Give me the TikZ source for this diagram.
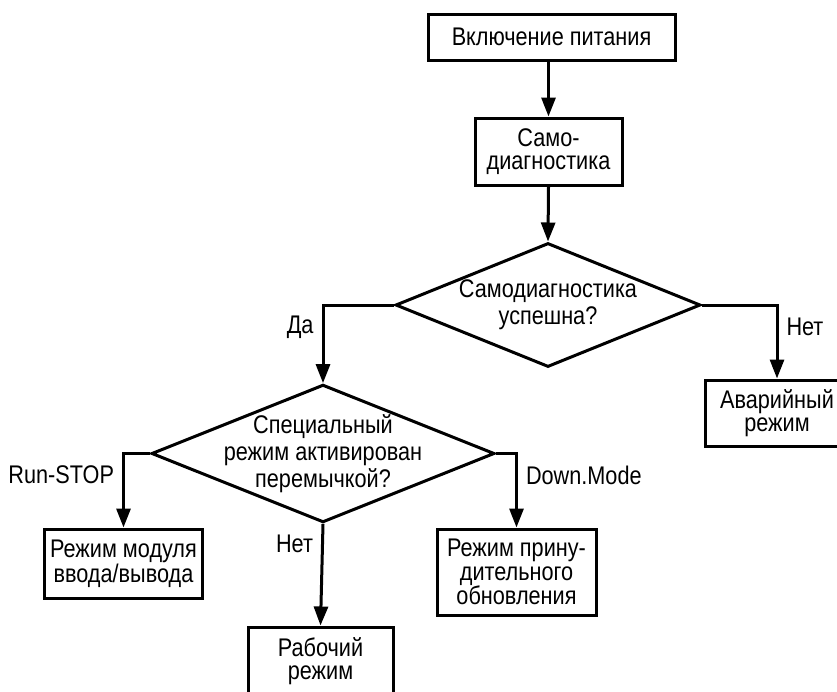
\documentclass[tikz,border=0pt]{standalone}
\usepackage{fontspec}
\setmainfont[FakeStretch=0.85]{Liberation Sans}
\usetikzlibrary{arrows.meta, positioning, calc, shapes.geometric}

\begin{document}
\begin{tikzpicture}[x=1pt, y=-1pt]

% ---- Styles ----------------------------------------------------------------
\tikzset{
  txt/.style={font=\fontsize{25.5}{23.5}\selectfont, align=center},
  box/.style={txt, draw, line width=\LW, inner sep=0pt},
  decision/.style={txt, font=\fontsize{25.5}{27}\selectfont, diamond, draw,
                   line width=\LW, inner ysep=0pt},
  flow/.style={line width=\LW, -{Triangle[length=19pt, width=14pt]}},
  lbl/.style={txt, inner xsep=8pt, inner ysep=2pt},
}

\def\LW{3pt}  % line width

\useasboundingbox (0,0) rectangle (837,691);

% ---- Boxes and decisions ---------------------------------------------------
\node[box, minimum width=247pt, minimum height=46pt] (power) at (551.5,37)
  {Включение питания};
\node[box, minimum width=147pt, minimum height=67pt] (selftest) at (548.5,151.5)
  {Само-\\диагностика};
\node[decision, aspect=2.46, inner xsep=-2pt,
      minimum width=305pt, minimum height=124pt] (check) at (548,305)
  {Самодиагностика\\успешна?};
\node[box, minimum width=144pt, minimum height=66pt] (fault) at (777,413)
  {Аварийный\\режим};
\node[decision, aspect=2.49, inner xsep=-25pt,
      minimum width=341pt, minimum height=137pt] (jumper) at (323,453.5)
  {Специальный\\режим активирован\\перемычкой?};
\node[box, minimum width=158pt, minimum height=69pt] (io) at (123.5,563.5)
  {Режим модуля\\ввода/вывода};
\node[box, minimum width=145pt, minimum height=68pt] (work) at (320.5,661)
  {Рабочий\\режим};
\node[box, minimum width=159pt, minimum height=86pt] (update) at (516.5,572)
  {Режим прину-\\дительного\\обновления};

% ---- Connectors ------------------------------------------------------------
\draw[flow] (selftest.north |- power.south) -- (selftest.north);
\draw[flow] (selftest.south) -- (check.north);
\draw[flow] (check.west) -| node[lbl, pos=0.64, anchor=east] {Да} (jumper.north);
\draw[flow] (check.east) -| node[lbl, pos=0.65, anchor=west] {Нет} (fault.north);
\draw[flow] (jumper.west) -| node[lbl, pos=0.64, anchor=east] {Run-STOP} (io.north);
\draw[flow] (jumper.east) -| node[lbl, pos=0.65, anchor=west] {Down.Mode} (update.north);
\draw[flow] (jumper.south) -- node[lbl, pos=0.2, anchor=east] {Нет} (work.north);

\end{tikzpicture}
\end{document}
